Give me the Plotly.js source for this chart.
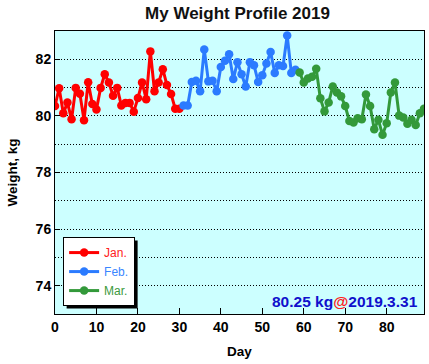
<!DOCTYPE html>
<html>
<head>
<meta charset="utf-8">
<script src="https://cdn.plot.ly/plotly-3.0.1.min.js"></script>
<style>html,body{margin:0;padding:0;background:#fff;}#chart{width:429px;height:364px;}</style>
</head>
<body>
<div id="chart"></div>
<script>
const janDays = Array.from({length: 31}, (_, i) => i);
const janW = [80.35, 80.98, 80.09, 80.47, 79.88, 80.99, 80.78, 79.85, 81.19, 80.42, 80.23, 80.99, 81.47, 81.18, 80.71, 80.99, 80.37, 80.46, 80.46, 80.15, 80.63, 81.18, 80.59, 82.28, 80.87, 81.18, 81.65, 81.09, 80.77, 80.25, 80.25];
const febDays = Array.from({length: 28}, (_, i) => i + 31);
const febW = [80.37, 80.37, 81.2, 81.24, 80.87, 82.35, 81.22, 81.24, 80.87, 81.73, 81.95, 82.18, 81.3, 81.9, 81.47, 81.04, 81.9, 81.79, 81.2, 81.44, 81.85, 82.26, 81.52, 81.79, 81.76, 82.84, 81.52, 81.63];
const marDays = Array.from({length: 31}, (_, i) => i + 59);
const marW = [81.53, 81.18, 81.32, 81.38, 81.67, 80.62, 80.16, 80.47, 81.04, 80.83, 80.69, 80.35, 79.82, 79.77, 79.92, 79.88, 80.76, 80.35, 79.53, 79.86, 79.33, 79.74, 80.83, 81.18, 80.01, 79.94, 79.72, 79.86, 79.68, 80.09, 80.25];
const seriesNames = ['Jan.', 'Feb.', 'Mar.'];
const yTickVals = [74, 76, 78, 80, 82];
const xTickVals = [0, 10, 20, 30, 40, 50, 60, 70, 80];
const lastLabel = ['80.25 kg', '@', '2019.3.31'];

const colors = ['#ff0000', '#2b7bff', '#33993a'];
const textColors = ['#ff2020', '#3a86ff', '#3c9a3c'];
const font = 'Liberation Sans, Arial, sans-serif';

function mk(x, y, i) {
  return {
    x: x, y: y, type: 'scatter', mode: 'lines+markers',
    name: '<span style="color:' + textColors[i] + '">' + seriesNames[i] + '</span>',
    line: {color: colors[i], width: 3},
    marker: {color: colors[i], size: 8.5}
  };
}
const data = [mk(janDays, janW, 0), mk(febDays, febW, 1), mk(marDays, marW, 2)];

const layout = {
  width: 429, height: 364,
  margin: {l: 55, r: 5, t: 31, b: 50},
  paper_bgcolor: '#ffffff',
  plot_bgcolor: '#ccffff',
  font: {family: font, color: '#000'},
  title: {text: '<b>My Weight Profile 2019</b>', font: {size: 17, family: font, color: '#111'},
          x: 237.5 / 429, xref: 'container', xanchor: 'center', y: 1 - 13 / 364, yref: 'container', yanchor: 'middle'},
  showlegend: true,
  legend: {x: 0.022, y: 0.028, xanchor: 'left', yanchor: 'bottom', bgcolor: '#fff', bordercolor: '#000', borderwidth: 1,
           font: {size: 12, family: font}},
  xaxis: {range: [0, 89], tickvals: xTickVals, ticks: 'inside', ticklen: 6, tickwidth: 1, tickcolor: '#000',
          showline: true, linecolor: '#000', linewidth: 1, mirror: true, showgrid: false, zeroline: false,
          tickfont: {size: 14, family: font, weight: 'bold'},
          title: {text: '<b>Day</b>', font: {size: 13.5, family: font}, standoff: 12}},
  yaxis: {range: [73, 83], tickvals: yTickVals, ticks: 'inside', ticklen: 5, tickwidth: 1, tickcolor: '#000',
          showline: true, linecolor: '#000', linewidth: 1, mirror: true, zeroline: false,
          showgrid: true, gridcolor: '#000', griddash: '1px,2px', gridwidth: 1,
          minor: {dtick: 1, tick0: 73, showgrid: true, gridcolor: '#000', griddash: '1px,2px', gridwidth: 1, ticks: ''},
          tickfont: {size: 14, family: font, weight: 'bold'},
          title: {text: '<b>Weight, kg</b>', font: {size: 13.5, family: font}, standoff: 14}},
  annotations: [{
    xref: 'paper', yref: 'paper', x: 0.99, y: 0.045, xanchor: 'right', yanchor: 'middle', showarrow: false,
    text: '<b><span style="color:#1010cc">' + lastLabel[0] + '</span><span style="color:#ff2020">' + lastLabel[1] + '</span><span style="color:#1010cc">' + lastLabel[2] + '</span></b>',
    font: {size: 15.5, family: font}
  }]
};

Plotly.newPlot('chart', data, layout, {displayModeBar: false, staticPlot: true}).then(function (gd) {
  const bg = gd.querySelector('.legend .bg');
  if (!bg) return;
  const r = bg.getBoundingClientRect();
  const c = gd.getBoundingClientRect();
  const fl = gd._fullLayout, s = fl._size;
  const px0 = r.left - c.left + 3, px1 = r.right - c.left + 3;
  const py0 = r.top - c.top + 3, py1 = r.bottom - c.top + 3;
  const toX = p => (p - s.l) / s.w;
  const toY = p => 1 - (p - s.t) / s.h;
  return Plotly.relayout(gd, {shapes: [{
    type: 'rect', xref: 'paper', yref: 'paper', layer: 'above',
    x0: toX(px0), x1: toX(px1), y0: toY(py1), y1: toY(py0),
    fillcolor: '#000', line: {width: 0}
  }]});
});
</script>
</body>
</html>
